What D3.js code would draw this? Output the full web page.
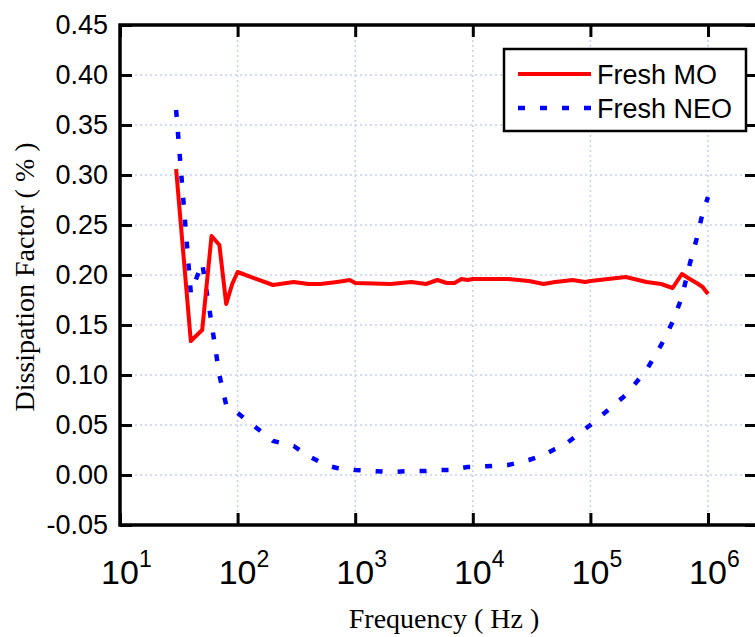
<!DOCTYPE html>
<html>
<head>
<meta charset="utf-8">
<script src="https://cdn.jsdelivr.net/npm/d3@7"></script>
<style>
  html, body { margin: 0; padding: 0; background: #fff; }
  svg { display: block; }
</style>
</head>
<body>
<svg id="chart" width="755" height="637"></svg>
<script>
// Measured frequencies (Hz)
const frequencies = [
  30, 40, 50, 60, 70, 80, 90,
  100, 200, 300, 400, 500, 600, 700, 800, 900,
  1000, 2000, 3000, 4000, 5000, 6000, 7000, 8000, 9000,
  10000, 20000, 30000, 40000, 50000, 60000, 70000, 80000, 90000,
  100000, 200000, 300000, 400000, 500000, 600000, 700000, 800000, 900000,
  1000000
];

// Dissipation factor (%) of fresh mineral oil
const freshMO = [
  0.306, 0.134, 0.145, 0.239, 0.230, 0.171, 0.191,
  0.203, 0.190, 0.193, 0.191, 0.191, 0.192, 0.193, 0.194, 0.195,
  0.192, 0.191, 0.193, 0.191, 0.195, 0.192, 0.192, 0.196, 0.195,
  0.196, 0.196, 0.194, 0.191, 0.193, 0.194, 0.195, 0.194, 0.193,
  0.194, 0.198, 0.193, 0.191, 0.187, 0.201, 0.196, 0.192, 0.188,
  0.181
];

// Dissipation factor (%) of fresh natural ester oil
const freshNEO = [
  0.365, 0.182, 0.212, 0.152, 0.100, 0.070, 0.067,
  0.062, 0.034, 0.029, 0.019, 0.013, 0.009, 0.007, 0.006, 0.006,
  0.005, 0.003, 0.004, 0.004, 0.005, 0.005, 0.005, 0.007, 0.008,
  0.008, 0.010, 0.015, 0.020, 0.026, 0.030, 0.036, 0.041, 0.046,
  0.050, 0.080, 0.105, 0.130, 0.153, 0.178, 0.211, 0.236, 0.262,
  0.278
];

const seriesNames = ["Fresh MO", "Fresh NEO"];

const yTickValues = [-0.05, 0.00, 0.05, 0.10, 0.15, 0.20, 0.25, 0.30, 0.35, 0.40, 0.45];
const yTickLabels = ["-0.05", "0.00", "0.05", "0.10", "0.15", "0.20", "0.25", "0.30", "0.35", "0.40", "0.45"];
const xTickExponents = [1, 2, 3, 4, 5, 6];

const xTitle = "Frequency ( Hz )";
const yTitle = "Dissipation Factor ( % )";

// ---- layout ----
const plotLeft = 120, plotTop = 25, plotBottom = 525, plotRight = 757;
const tickLen = 12;
const sansFont = "'Liberation Sans', Arial, Helvetica, sans-serif";
const serifFont = "'Liberation Serif', 'Times New Roman', serif";

const svg = d3.select("#chart");

const x = d3.scaleLog().domain([10, 1e6]).range([plotLeft, 708]);
const y = d3.scaleLinear().domain([-0.05, 0.45]).range([plotBottom, plotTop]);

const xTickValues = xTickExponents.map(e => Math.pow(10, e));

// ---- grid ----
const grid = svg.append("g")
  .attr("stroke", "#c3d1f3")
  .attr("stroke-width", 1.5)
  .attr("stroke-dasharray", "2,3");

grid.selectAll("line.v")
  .data(xTickValues.slice(1))
  .join("line")
  .attr("class", "v")
  .attr("x1", d => x(d)).attr("x2", d => x(d))
  .attr("y1", plotTop).attr("y2", plotBottom);

grid.selectAll("line.h")
  .data(yTickValues.slice(1, -1))
  .join("line")
  .attr("class", "h")
  .attr("x1", plotLeft).attr("x2", plotRight)
  .attr("y1", d => y(d)).attr("y2", d => y(d));

// ---- series ----
const line = d3.line()
  .x((d, i) => x(frequencies[i]))
  .y(d => y(d));

svg.append("path")
  .datum(freshNEO)
  .attr("fill", "none")
  .attr("stroke", "#0000ff")
  .attr("stroke-width", 4.5)
  .attr("stroke-dasharray", "7,15")
  .attr("d", line);

svg.append("path")
  .datum(freshMO)
  .attr("fill", "none")
  .attr("stroke", "#ff0000")
  .attr("stroke-width", 4)
  .attr("stroke-linejoin", "round")
  .attr("d", line);

// ---- axes (ticks pointing inward) ----
const axisStyle = g => {
  g.select(".domain").remove();
  g.selectAll(".tick line").attr("stroke", "#000").attr("stroke-width", 3);
};

svg.append("g")
  .attr("transform", `translate(${plotLeft},0)`)
  .call(d3.axisLeft(y).tickValues(yTickValues).tickSizeInner(-tickLen).tickSizeOuter(0)
    .tickPadding(12).tickFormat((d, i) => yTickLabels[i]))
  .call(axisStyle)
  .call(g => g.selectAll(".tick text")
    .attr("fill", "#000")
    .style("font-family", sansFont)
    .style("font-size", "27px"));

svg.append("g")
  .attr("transform", `translate(${plotRight},0)`)
  .call(d3.axisRight(y).tickValues(yTickValues).tickSizeInner(-tickLen).tickSizeOuter(0).tickFormat(""))
  .call(axisStyle);

svg.append("g")
  .attr("transform", `translate(0,${plotBottom})`)
  .call(d3.axisBottom(x).tickValues(xTickValues).tickSizeInner(-tickLen).tickSizeOuter(0).tickFormat(""))
  .call(axisStyle);

svg.append("g")
  .attr("transform", `translate(0,${plotTop})`)
  .call(d3.axisTop(x).tickValues(xTickValues).tickSizeInner(-tickLen).tickSizeOuter(0).tickFormat(""))
  .call(axisStyle);

// x tick labels as powers of ten
const xLabels = svg.append("g")
  .attr("font-family", sansFont)
  .attr("fill", "#000");

xTickExponents.forEach(e => {
  const cx = x(Math.pow(10, e));
  xLabels.append("text")
    .attr("x", cx).attr("y", 584)
    .attr("text-anchor", "middle")
    .style("font-size", "34px")
    .text("10");
  xLabels.append("text")
    .attr("x", cx + 19).attr("y", 567)
    .attr("text-anchor", "start")
    .style("font-size", "23px")
    .text(String(e));
});

// ---- frame ----
svg.append("path")
  .attr("d", `M${plotRight},${plotTop}H${plotLeft}V${plotBottom}H${plotRight}`)
  .attr("fill", "none")
  .attr("stroke", "#000")
  .attr("stroke-width", 3.5);

// ---- axis titles ----
svg.append("text")
  .attr("x", 444).attr("y", 628)
  .attr("text-anchor", "middle")
  .style("font-family", serifFont)
  .style("font-size", "28px")
  .attr("fill", "#000")
  .text(xTitle);

svg.append("text")
  .attr("transform", "translate(34,277) rotate(-90)")
  .attr("text-anchor", "middle")
  .style("font-family", serifFont)
  .style("font-size", "28px")
  .attr("fill", "#000")
  .text(yTitle);

// ---- legend ----
const legend = svg.append("g");
legend.append("rect")
  .attr("x", 504).attr("y", 49)
  .attr("width", 242).attr("height", 82)
  .attr("fill", "#fff")
  .attr("stroke", "#000")
  .attr("stroke-width", 2.5);

const legendItems = [
  { name: seriesNames[0], color: "#ff0000", dash: null, width: 4 },
  { name: seriesNames[1], color: "#0000ff", dash: "7,15", width: 4.5 }
];

legendItems.forEach((item, i) => {
  const ly = 74 + i * 34;
  legend.append("line")
    .attr("x1", 518).attr("x2", 591)
    .attr("y1", ly).attr("y2", ly)
    .attr("stroke", item.color)
    .attr("stroke-width", item.width)
    .attr("stroke-dasharray", item.dash);
  legend.append("text")
    .attr("x", 597).attr("y", ly + 10)
    .style("font-family", sansFont)
    .style("font-size", "27px")
    .attr("fill", "#000")
    .text(item.name);
});
</script>
</body>
</html>
